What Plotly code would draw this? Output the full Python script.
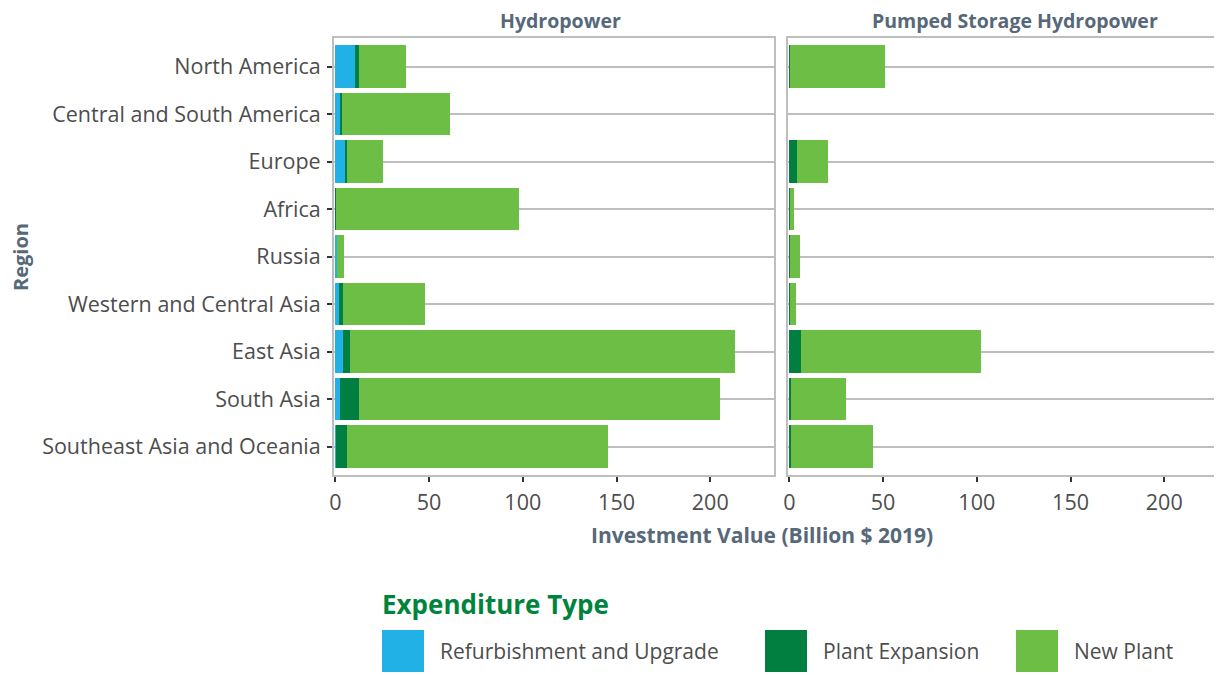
import plotly.graph_objects as go
from plotly.subplots import make_subplots

# data (Billion $ 2019)
regions = ["North America", "Central and South America", "Europe", "Africa", "Russia",
           "Western and Central Asia", "East Asia", "South Asia", "Southeast Asia and Oceania"]
expenditure_types = ["Refurbishment and Upgrade", "Plant Expansion", "New Plant"]
panels = ["Hydropower", "Pumped Storage Hydropower"]

hydro_refurb = [10.4, 2.9, 5.1, 0.3, 1.0, 1.9, 4.0, 2.4, 0.2]
hydro_expansion = [2.1, 0.5, 1.1, 0.2, 0.1, 2.1, 3.7, 10.1, 6.0]
hydro_new = [25.1, 57.7, 19.1, 97.4, 3.4, 43.8, 205.5, 192.7, 139.3]

psh_refurb = [0, 0, 0, 0, 0, 0, 0, 0, 0]
psh_expansion = [0.2, 0, 4.3, 0.1, 0.2, 0.1, 6.4, 1.0, 1.0]
psh_new = [51.0, 0, 16.5, 2.6, 5.7, 3.6, 95.9, 29.4, 43.8]

x_ticks = [0, 50, 100, 150, 200]

colors = ["#22b1e6", "#007f41", "#6dbe45"]
FONT = "Open Sans, Roboto, sans-serif"
TEXT = "#4d4d4d"
SLATE = "#56687a"
GRID = "#bebebe"

# the page body adds an 8px margin, so work in screen pixels and shift back
OFF = 8
W, H = 1222 - OFF, 675 - OFF
def px(x):
    return (x - OFF) / W
def py(y):
    return 1 - (y - OFF) / H

fig = make_subplots(rows=1, cols=2, shared_yaxes=True)

series = {
    1: [hydro_refurb, hydro_expansion, hydro_new],
    2: [psh_refurb, psh_expansion, psh_new],
}
for col, vals in series.items():
    for name, v, c in zip(expenditure_types, vals, colors):
        fig.add_trace(go.Bar(
            y=regions, x=v, orientation="h", name=name,
            marker=dict(color=c, line_width=0), width=0.9,
            showlegend=False,
            hovertemplate="%{y}: %{x:.1f}<extra>" + name + "</extra>",
        ), row=1, col=col)

axis_common = dict(
    showline=True, linecolor=GRID, linewidth=2, mirror=True,
    ticks="outside", ticklen=5, tickwidth=2, tickcolor="#333333",
    tickfont=dict(family=FONT, size=21.5, color=TEXT),
    automargin=False, zeroline=False,
)

fig.update_xaxes(**axis_common, tickvals=x_ticks, showgrid=False, ticklabelstandoff=2)
fig.update_xaxes(domain=[px(334), px(774)], range=[-0.7, 234], row=1, col=1)
fig.update_xaxes(domain=[px(788), 1.0], range=[-0.7, 230.8], row=1, col=2)

fig.update_yaxes(**axis_common, showgrid=True, gridcolor=GRID, gridwidth=2,
                 categoryorder="array", categoryarray=regions,
                 range=[8.6, -0.6], domain=[py(475), py(38)])
fig.update_yaxes(ticklabelstandoff=2, row=1, col=1)
fig.update_yaxes(showticklabels=False, ticks="", row=1, col=2)

def note(text, x, y, size, color=SLATE, bold=True, xanchor="center", angle=0):
    return dict(text=text, x=px(x), y=py(y), xref="paper", yref="paper",
                xanchor=xanchor, yanchor="middle", textangle=angle, showarrow=False,
                borderpad=0,
                font=dict(family=FONT, size=size, color=color,
                          weight="bold" if bold else "normal"))

annotations = [
    note(panels[0], 560, 20, 19.5),
    note(panels[1], 1015, 20, 19.5),
    note("Investment Value (Billion $ 2019)", 762, 535, 21),
    note("Region", 21, 257, 20, angle=-90),
    note("Expenditure Type", 381, 604, 26, color="#00843d", xanchor="left"),
]

# manual legend with large square keys
shapes = []
legend_x = [382, 765, 1016]
for lx, name, c in zip(legend_x, expenditure_types, colors):
    shapes.append(dict(type="rect", xref="paper", yref="paper",
                       x0=px(lx), x1=px(lx + 42), y0=py(672), y1=py(630),
                       fillcolor=c, line_width=0))
    annotations.append(note(name, lx + 57, 651, 21, color=TEXT, bold=False, xanchor="left"))

fig.update_layout(
    template="none",
    barmode="stack",
    width=W, height=H,
    margin=dict(l=0, r=0, t=0, b=0),
    plot_bgcolor="white", paper_bgcolor="white",
    annotations=annotations,
    shapes=shapes,
    showlegend=False,
)

fig.write_html("out.html")
